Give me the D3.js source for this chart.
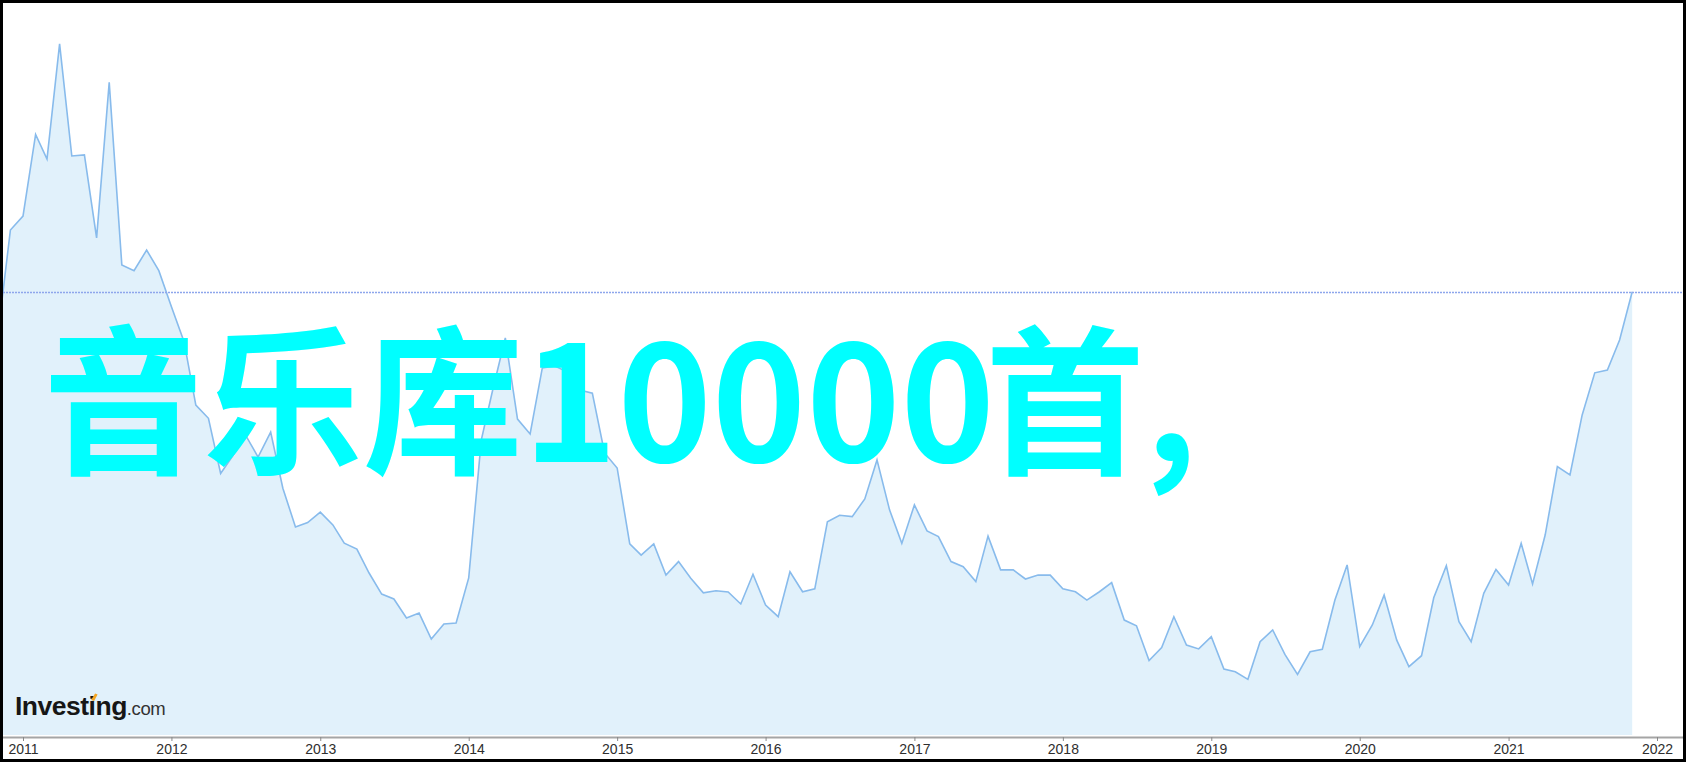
<!DOCTYPE html>
<html>
<head>
<meta charset="utf-8">
<script src="https://cdn.jsdelivr.net/npm/d3@7/dist/d3.min.js"></script>
<style>
  html, body { margin: 0; padding: 0; background: #000; }
  svg { display: block; }
</style>
</head>
<body>
<svg id="chart" width="1686" height="762"></svg>
<script>
// ---- DATA (monthly values) ----
const startMonth = "2010-11-01";
const values = [
  225.0, 264.2,
  269.6, 301.0, 291.5, 335.8, 292.7, 293.1, 261.2, 321.0, 250.8, 248.6, 256.5, 248.6,
  234.7, 221.3, 196.9, 191.8, 170.6, 177.7, 185.4, 176.9, 186.5, 164.9, 150.0, 151.7,
  155.7, 150.8, 143.8, 141.5, 132.3, 124.2, 122.3, 115.0, 116.9, 106.9, 112.7, 113.1,
  130.4, 183.5, 202.7, 222.7, 191.5, 185.8, 211.2, 211.9, 209.6, 202.7, 201.5, 178.5,
  172.7, 143.5, 139.2, 143.5, 131.5, 136.7, 130.3, 124.7, 125.5, 125.0, 120.4, 131.8,
  120.0, 115.5, 132.8, 125.1, 126.2, 152.0, 154.5, 154.0, 160.8, 175.8, 156.5, 143.7,
  158.5, 148.5, 146.3, 136.7, 134.7, 129.0, 146.5, 133.5, 133.5, 130.0, 131.5, 131.5,
  126.2, 125.1, 121.9, 125.1, 128.6, 114.2, 112.0, 98.6, 103.6, 115.5, 104.6, 103.1,
  107.8, 95.4, 94.3, 91.4, 105.9, 110.4, 101.0, 93.3, 102.0, 103.0, 121.9, 135.4,
  104.0, 112.3, 123.8, 106.5, 96.3, 100.5, 122.8, 135.1, 113.6, 105.9, 124.5, 133.7,
  127.7, 143.7, 128.1, 146.9, 173.2, 170.0, 193.1, 209.3, 210.4, 221.9, 240.5
];
const tickYears = ["2011","2012","2013","2014","2015","2016","2017","2018","2019","2020","2021","2022"];
const titleParts = ["音乐库10000", "首,"];
const logoMain = "Investing";
const logoSuffix = ".com";

// ---- SETUP ----
const W = 1686, H = 762;
const svg = d3.select("#chart");
const parse = d3.timeParse("%Y-%m-%d");
const start = parse(startMonth);
const data = values.map((v, i) => ({ date: d3.timeMonth.offset(start, i), v }));

const plot = { left: 3, right: 1683, top: 3, bottom: 735 };

const x = d3.scaleTime()
  .domain([parse("2011-01-01"), parse("2022-01-01")])
  .range([23, 1657]);
const y = d3.scaleLinear()
  .domain([70, 340])
  .range([735, 33]);

// frame
svg.append("rect").attr("x", 0).attr("y", 0).attr("width", W).attr("height", H).attr("fill", "#000");
svg.append("rect").attr("x", 3).attr("y", 3).attr("width", 1680).attr("height", 756).attr("fill", "#fff");

const defs = svg.append("defs");
defs.append("clipPath").attr("id", "clip")
  .append("rect").attr("x", plot.left).attr("y", plot.top)
  .attr("width", plot.right - plot.left).attr("height", plot.bottom - plot.top);

const g = svg.append("g").attr("clip-path", "url(#clip)");

const area = d3.area().x(d => x(d.date)).y0(plot.bottom).y1(d => y(d.v));
const line = d3.line().x(d => x(d.date)).y(d => y(d.v));

g.append("path").datum(data).attr("d", area).attr("fill", "#e1f1fb");
g.append("path").datum(data).attr("d", line)
  .attr("fill", "none").attr("stroke", "#88bbec").attr("stroke-width", 1.6)
  .attr("stroke-linejoin", "miter");

// last value dotted line
const last = data[data.length - 1];
g.append("line")
  .attr("x1", plot.left).attr("x2", plot.right)
  .attr("y1", Math.round(y(last.v)) + 0.5).attr("y2", Math.round(y(last.v)) + 0.5)
  .attr("stroke", "#8ea6ec").attr("stroke-width", 1.3).attr("stroke-dasharray", "2,1");

// x axis
const xAxis = d3.axisBottom(x)
  .tickValues(tickYears.map(t => parse(t + "-01-01")))
  .tickFormat(d => d3.timeFormat("%Y")(d))
  .tickSizeInner(4).tickSizeOuter(0).tickPadding(3);
const ax = svg.append("g").attr("transform", "translate(0,737)").call(xAxis);
ax.select(".domain").remove();
ax.insert("line", ":first-child")
  .attr("x1", plot.left).attr("x2", plot.right).attr("y1", 0.5).attr("y2", 0.5)
  .attr("stroke", "#a5a5a5").attr("stroke-width", 2);
ax.selectAll(".tick line").attr("stroke", "#8a8a8a");
ax.selectAll(".tick text")
  .attr("fill", "#2e2e2e").attr("font-family", "'Liberation Sans', Arial, sans-serif")
  .attr("font-size", 14).attr("dy", "0.68em");

// logo
const logoFont = "'Liberation Sans', Arial, sans-serif";
const logo = svg.append("g").attr("transform", "translate(15,715)");
const lt = logo.append("text").attr("font-family", logoFont).attr("fill", "#161616");
lt.append("tspan").attr("font-weight", "bold").attr("font-size", 26.5).attr("letter-spacing", -0.5).text(logoMain);
lt.append("tspan").attr("font-size", 18.5).attr("fill", "#333").attr("letter-spacing", -0.4).text(logoSuffix);
// orange accent above the 'i' in Investing
const measure = logo.append("text")
  .attr("font-family", logoFont).attr("font-weight", "bold")
  .attr("font-size", 26.5).attr("letter-spacing", -0.5)
  .attr("visibility", "hidden").text("Invest");
const wInvest = measure.node().getComputedTextLength();
measure.remove();
logo.append("path")
  .attr("d", `M${wInvest + 2.5},-15 L${wInvest + 6.5},-21.5 L${wInvest + 9},-20.5 L${wInvest + 5.5},-14 Z`)
  .attr("fill", "#f5a623");

// big cyan overlay text
const title = svg.append("text")
  .attr("x", 43).attr("y", 462)
  .attr("font-family", "'Noto Sans CJK SC', 'Noto Sans', sans-serif")
  .attr("font-weight", "bold")
  .attr("font-size", 160)
  .attr("fill", "#00ffff");
title.append("tspan").text(titleParts[0]);
title.append("tspan").attr("dx", -10).text(titleParts[1]);
</script>
</body>
</html>
